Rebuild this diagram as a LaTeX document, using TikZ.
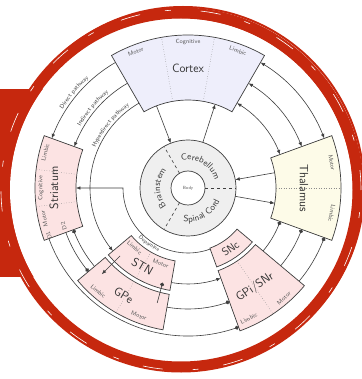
\documentclass[tikz,border=0pt]{standalone}
\usepackage{tikz}
\usetikzlibrary{arrows.meta,bending,decorations.text}
\definecolor{brushred}{RGB}{198,40,14}
\definecolor{linegrey}{RGB}{62,62,62}
\definecolor{ctxfill}{RGB}{238,238,251}
\definecolor{thalfill}{RGB}{253,251,232}
\definecolor{bgfill}{RGB}{252,227,227}
\definecolor{ringfill}{RGB}{239,239,239}
\tikzset{
  sect/.style={draw=linegrey,line width=0.7pt},
  ctx/.style={sect,fill=ctxfill},
  thal/.style={sect,fill=thalfill},
  bg/.style={sect,fill=bgfill},
  ring/.style={sect,fill=ringfill},
  div/.style={draw=black!45,dotted,line width=0.5pt},
  big/.style={font=\sffamily\fontsize{12}{14}\selectfont,text=black!80,inner sep=0pt},
  sub/.style={font=\sffamily\fontsize{6}{7}\selectfont,text=black!65,inner sep=0pt},
  plain/.style={draw=linegrey,line width=0.6pt},
  arr/.style={plain,-{Latex[length=4.5pt,width=3.6pt]}},
  biarr/.style={plain,{Latex[length=4.5pt,width=3.6pt]}-{Latex[length=4.5pt,width=3.6pt]}},
  inh/.style={plain,-{Circle[length=4pt]}}
}
% annular sector: style, start angle, end angle, inner radius, outer radius
\newcommand{\annsector}[5]{\path[#1] (#2:#4) arc[start angle=#2,end angle=#3,radius=#4] -- (#3:#5) arc[start angle=#3,end angle=#2,radius=#5] -- cycle;}
% text set along an arc: size, radius, start angle, end angle, text
\newcommand{\arctext}[5]{\path[decorate,decoration={text along path,text align=center,text={|\sffamily\fontsize{#1}{#1}\selectfont\color{black!75}|#5}}] (#3:#2) arc[start angle=#3,end angle=#4,radius=#2];}

\begin{document}
\begin{tikzpicture}[x=1pt,y=1pt,font=\sffamily]
\useasboundingbox (-188,-191) rectangle (173,188);
% backdrop
\fill[brushred] (-188,-89) rectangle (-100,99);
\fill[white] (-7,-2) circle[radius=171];
\draw[brushred,line width=11pt] (-7,-2) circle[radius=177];
\draw[brushred,line width=2pt] (-5,0) circle[radius=181];
\draw[brushred,line width=2pt] (-9,-4) circle[radius=175];
\draw[white,line width=0.6pt,dash pattern=on 20pt off 30pt on 6pt off 25pt] (-7,-2) circle[radius=180];

% brainstem, cerebellum, spinal cord
\filldraw[ring] (0,0) circle[radius=48];
\filldraw[sect,fill=white] (0,0) circle[radius=17];
\foreach \a in {0,120,240} \draw[plain,dashed] (\a:17) -- (\a:48);
\node[sub,font=\sffamily\fontsize{4.5}{5}\selectfont] (body) at (0,0) {Body};
\arctext{9}{28}{110}{10}{Cerebellum}
\arctext{9}{28}{240}{120}{Brainstem}
\arctext{9}{34}{240}{360}{Spinal Cord}

% regions
\annsector{ctx}{60}{120}{88}{153}
\annsector{thal}{-20}{20}{88}{153}
\annsector{bg}{160}{200}{112}{153}
\annsector{bg}{220}{260}{74}{104}
\annsector{bg}{220}{260}{108}{144}
\annsector{bg}{290}{320}{64}{84}
\annsector{bg}{290}{320}{88}{152}
\foreach \a in {80,100} \draw[div] (\a:88) -- (\a:153);
\draw[div] (0:88) -- (0:153);
\foreach \a in {173,187} \draw[div] (\a:112) -- (\a:153);
\draw[div] (240:74) -- (240:104);
\draw[div] (240:108) -- (240:144);
\draw[div] (304:88) -- (304:152);

\node[big] (ctx) at (90:120) {Cortex};
\node[sub,rotate=21] (ctxm) at (111:146) {Motor};
\node[sub] (ctxc) at (90:146) {Cognitive};
\node[sub,rotate=-20] (ctxl) at (70:146) {Limbic};
\node[big,rotate=-90] (thal) at (0:116) {Thalamus};
\node[sub,rotate=-80] (thalm) at (10:146) {Motor};
\node[sub,rotate=-100] (thall) at (-10:146) {Limbic};
\node[big,rotate=90] (str) at (180:134) {Striatum};
\node[sub,rotate=76] (strl) at (166:147) {Limbic};
\node[sub,rotate=90] (strc) at (180:147) {Cognitive};
\node[sub,rotate=102] (strm) at (192:147) {Motor};
\node[sub,rotate=109] (done) at (199:147) {D1};
\node[sub,rotate=107] (dtwo) at (197:130) {D2};
\node[big,rotate=-30] (stn) at (240:91) {STN};
\node[sub,rotate=-42] (stnl) at (228:80) {Limbic};
\node[sub,rotate=-20] (stnm) at (250:80) {Motor};
\node[big,rotate=-31] (gpe) at (239:125) {GPe};
\node[sub,rotate=-41] (gpel) at (229:137) {Limbic};
\node[sub,rotate=-21] (gpem) at (249:137) {Motor};
\node[big,font=\sffamily\fontsize{11}{13}\selectfont,rotate=35] (snc) at (305:74) {SNc};
\node[big,rotate=34] (gpi) at (304:120) {GPi/SNr};
\node[sub,rotate=25] (gpil) at (295:144) {Limbic};
\node[sub,rotate=41] (gpim) at (311:146) {Motor};

% cortex to striatum and STN
\draw[arr] (120:145) arc[start angle=120,end angle=160,radius=145];
\draw[arr] (120:121) arc[start angle=120,end angle=160,radius=121];
\draw[arr] (120:98) arc[start angle=120,end angle=220,radius=98];
\arctext{6}{148}{158}{122}{Direct pathway}
\arctext{6}{124}{158}{122}{Indirect pathway}
\arctext{6}{101}{160}{122}{Hyperdirect pathway}
% cortex and thalamus
\foreach \r in {98,121,145} \draw[biarr] (60:\r) arc[start angle=60,end angle=20,radius=\r];
% GPi/SNr to thalamus
\foreach \r in {98,121,145} \draw[inh] (320:\r) arc[start angle=320,end angle=340,radius=\r];
% striatum, GPe, STN to GPi/SNr
\draw[inh] (200:148) arc[start angle=200,end angle=290,radius=148];
\draw[inh] (200:130) arc[start angle=200,end angle=220,radius=130];
\draw[inh] (220:122) arc[start angle=220,end angle=200,radius=122];
\draw[arr] (260:96) arc[start angle=260,end angle=290,radius=96];
\draw[inh] (260:121) arc[start angle=260,end angle=290,radius=121];
\draw[arr] (225:96) -- (225:122);
\draw[inh] (255:119) -- (255:98);
% dopamine
\draw[arr] (290:65) arc[start angle=290,end angle=180,radius=65] -- (180:112);
\arctext{5.5}{70}{215}{255}{Dopamine}
% to and from the centre
\draw[arr] (111:88) -- (111:48);
\draw[arr] (72:48) -- (72:88);
\draw[arr] (10:88) -- (10:48);
\draw[arr] (-10:48) -- (-10:88);
\end{tikzpicture}
\end{document}
